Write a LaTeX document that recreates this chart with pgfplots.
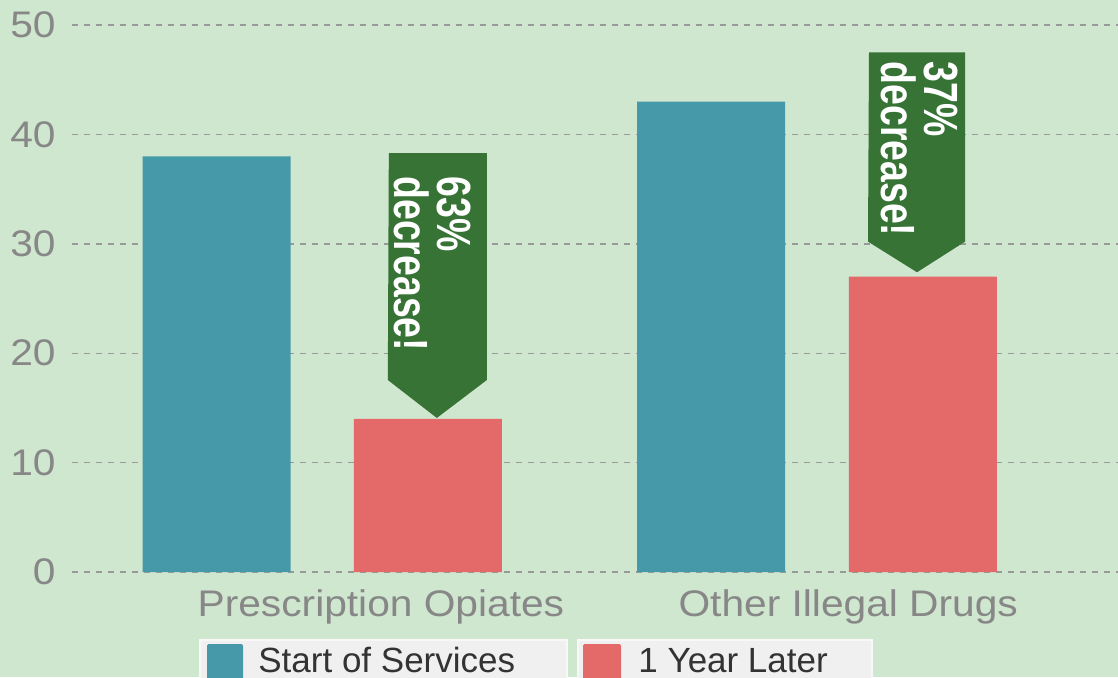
\documentclass[border=0pt]{standalone}
\usepackage{pgfplots}
\pgfplotsset{compat=1.18}
\usepackage{fontspec}
\setmainfont{Liberation Sans}
\newfontfamily\widefont{Liberation Sans}[FakeStretch=1.1]
\newfontfamily\narrowfont{Liberation Sans}[FakeStretch=0.78]
\definecolor{bgc}{HTML}{CFE6CF}
\definecolor{tealc}{HTML}{4699A8}
\definecolor{redc}{HTML}{E46A6A}
\definecolor{arrowc}{HTML}{367335}
\definecolor{tickc}{HTML}{878787}
\definecolor{gridc}{HTML}{999999}
\definecolor{legbg}{HTML}{F0F0F0}
\definecolor{legborder}{HTML}{F8F8F8}
\definecolor{legtext}{HTML}{333333}
\begin{document}
\begin{tikzpicture}
\useasboundingbox (-36pt,-52.5pt) rectangle (523pt,286pt);
\clip (-36pt,-52.5pt) rectangle (523pt,286pt);
\fill[bgc] (-36pt,-52.5pt) rectangle (523pt,286pt);
\begin{axis}[
  at={(0pt,0pt)}, anchor=south west,
  scale only axis, width=523pt, height=273.5pt,
  xmin=-0.505, xmax=1.608, ymin=0, ymax=50,
  axis line style={draw=none},
  major tick length=0pt,
  ytick={0,10,20,30,40,50},
  xtick={0.119,1.063},
  xticklabels={Prescription Opiates, Other Illegal Drugs},
  ymajorgrids,
  grid style={dashed, gridc, line width=0.7pt, dash pattern=on 3pt off 3pt},
  /pgf/number format/assume math mode=true,
  yticklabel style={font=\widefont\fontsize{18.5}{22}\selectfont, text=tickc, anchor=east, inner sep=0pt, xshift=-8pt},
  xticklabel style={font=\widefont\fontsize{18.5}{22}\selectfont, text=tickc, anchor=base, inner sep=0pt, yshift=-22pt},
]
\addplot[ybar, bar width=0.299, bar shift=0pt, fill=tealc, draw=none] coordinates {(-0.213,38) (0.786,43)};
\addplot[ybar, bar width=0.299, bar shift=0pt, fill=redc, draw=none] coordinates {(0.214,14) (1.214,27)};
\fill[arrowc] (axis cs:0.135,38.3) -- (axis cs:0.333,38.3) -- (axis cs:0.333,17.55) -- (axis cs:0.232,14.08) -- (axis cs:0.133,17.55) -- cycle;
\fill[arrowc] (axis cs:1.105,47.5) -- (axis cs:1.299,47.5) -- (axis cs:1.299,30.2) -- (axis cs:1.202,27.4) -- (axis cs:1.103,30.2) -- cycle;
\node[rotate=-90, anchor=west, align=left, inner sep=0pt, text=white, font=\narrowfont\bfseries\fontsize{24}{21.5}\selectfont] at (axis cs:0.224,36.2) {63\%\\decrease!};
\node[rotate=-90, anchor=west, align=left, inner sep=0pt, text=white, font=\narrowfont\bfseries\fontsize{24}{21.5}\selectfont] at (axis cs:1.207,46.7) {37\%\\decrease!};
\end{axis}
\fill[legbg, draw=legborder, line width=0.8pt] (64pt,-34pt) rectangle (247.5pt,-70pt);
\fill[legbg, draw=legborder, line width=0.8pt] (253pt,-34pt) rectangle (400pt,-70pt);
\fill[tealc, rounded corners=1pt] (67.5pt,-36pt) rectangle (85.5pt,-70pt);
\fill[redc, rounded corners=1pt] (255.5pt,-36pt) rectangle (274.5pt,-70pt);
\node[anchor=base west, inner sep=0pt, text=legtext, font=\fontsize{17.5}{20}\selectfont] at (93pt,-50pt) {Start of Services};
\node[anchor=base west, inner sep=0pt, text=legtext, font=\fontsize{17.5}{20}\selectfont] at (283pt,-50pt) {1 Year Later};
\end{tikzpicture}
\end{document}
